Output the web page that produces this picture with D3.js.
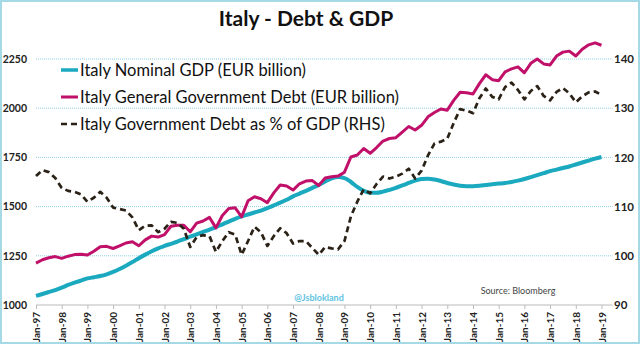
<!DOCTYPE html>
<html><head><meta charset="utf-8">
<script src="https://cdn.jsdelivr.net/npm/d3@7"></script>
<style>body{margin:0;background:#fff}svg{display:block}</style>
</head><body><svg id="c" width="640" height="345"></svg>
<script>
const startYear = 1997;
const yearLabels = ["Jan-97","Jan-98","Jan-99","Jan-00","Jan-01","Jan-02","Jan-03","Jan-04","Jan-05","Jan-06","Jan-07","Jan-08","Jan-09","Jan-10","Jan-11","Jan-12","Jan-13","Jan-14","Jan-15","Jan-16","Jan-17","Jan-18","Jan-19"];
const leftTicks = [1000,1250,1500,1750,2000,2250];
const rightTicks = [90,100,110,120,130,140];
// quarterly, Q1-1997 .. Q1-2019
const gdp = [1046,1056,1066,1076,1088,1102,1114,1124,1135,1141,1147,1156,1168,1183,1200,1218,1238,1256,1273,1288,1300,1311,1322,1335,1347,1359,1371,1383,1396,1410,1424,1438,1450,1460,1470,1480,1492,1506,1520,1535,1552,1566,1580,1595,1610,1628,1643,1650,1645,1625,1600,1580,1570,1570,1576,1585,1595,1608,1620,1632,1640,1642,1638,1630,1620,1612,1606,1604,1604,1606,1610,1614,1617,1620,1625,1632,1640,1650,1660,1670,1680,1688,1696,1704,1714,1724,1734,1744,1752];
const debt = [1213,1230,1240,1246,1237,1248,1256,1258,1254,1273,1296,1298,1287,1300,1315,1321,1301,1331,1350,1345,1358,1400,1405,1405,1372,1416,1427,1445,1392,1455,1490,1494,1448,1530,1550,1540,1520,1570,1610,1605,1584,1616,1630,1632,1607,1645,1652,1655,1675,1752,1762,1795,1771,1800,1833,1846,1850,1878,1907,1889,1913,1956,1978,1996,1990,2040,2081,2078,2072,2125,2170,2145,2140,2185,2200,2210,2180,2228,2250,2225,2220,2265,2285,2290,2265,2300,2322,2332,2320];
const ratio = [116.2,117.4,117.0,115.8,113.8,113.2,113.0,112.5,111.0,111.8,113.0,111.8,109.8,109.5,109.2,107.8,105.2,106.1,106.2,104.8,105.5,106.9,106.7,105.5,101.8,103.8,104.2,104.0,100.8,103.0,104.8,104.3,100.2,103.0,105.9,104.8,102.0,104.0,105.6,104.6,102.5,103.0,103.0,101.6,100.2,101.8,101.5,101.3,103.0,108.0,111.0,113.5,112.7,114.6,116.1,115.7,116.1,116.7,117.7,115.7,117.3,120.4,122.8,123.2,123.8,127.0,129.8,129.5,129.0,132.0,134.0,132.3,131.8,134.3,135.2,133.7,131.8,133.5,134.5,132.5,131.6,133.3,134.1,133.0,131.2,132.4,133.2,133.4,132.7];
const seriesNames = ["Italy Nominal GDP (EUR billion)","Italy General Government Debt (EUR billion)","Italy Government Debt as % of GDP (RHS)"];
const colors = ["#1aa9bf","#c0106a","#2b2217"];

const svg = d3.select("#c");
const FONT = "Lato, 'Open Sans', sans-serif";
const x = d3.scaleLinear().domain([0, 22]).range([36, 601.5]);
const xEnd = 612.5;
const yL = d3.scaleLinear().domain([1000, 2250]).range([305, 59]);
const yR = d3.scaleLinear().domain([90, 140]).range([305, 59]);
const qx = i => x(i / 4);

// frame
svg.append("rect").attr("x",1).attr("y",1).attr("width",638).attr("height",342)
  .attr("fill","none").attr("stroke","#a6d9e6").attr("stroke-width",2);

// title
svg.append("text").attr("x",306).attr("y",26).attr("text-anchor","middle")
  .attr("font-family",FONT).attr("font-weight","bold").attr("font-size",21).attr("fill","#111")
  .text("Italy - Debt & GDP");

// gridlines
svg.append("g").selectAll("line").data(leftTicks.filter(d=>d>1000)).join("line")
  .attr("x1",36).attr("x2",xEnd).attr("y1",d=>yL(d)).attr("y2",d=>yL(d))
  .attr("stroke","#8fd0e0").attr("stroke-width",1).attr("stroke-dasharray","1,1");

// left axis labels
const gl = svg.append("g").attr("transform","translate(27,0)")
  .call(d3.axisLeft(yL).tickValues(leftTicks).tickSize(0).tickPadding(0).tickFormat(d3.format("d")));
gl.select(".domain").remove();
gl.selectAll("text").attr("font-family",FONT).attr("font-weight","bold").attr("font-size",10.5).attr("fill","#222");

// right axis labels
const gr = svg.append("g").attr("transform","translate(614,0)")
  .call(d3.axisRight(yR).tickValues(rightTicks).tickSize(0).tickPadding(0).tickFormat(d3.format("d")));
gr.select(".domain").remove();
gr.selectAll("text").attr("font-family",FONT).attr("font-weight","bold").attr("font-size",11.5).attr("fill","#222");

// x axis
const gx = svg.append("g").attr("transform","translate(0,305)")
  .call(d3.axisBottom(x).tickValues(d3.range(0,23)).tickSize(4).tickPadding(3).tickFormat(i=>yearLabels[i]));
gx.select(".domain").attr("d",`M36,0H${xEnd}`).attr("stroke","#bbb");
gx.selectAll(".tick line").attr("stroke","#bbb");
gx.selectAll("text").attr("font-family",FONT).attr("font-weight","bold").attr("font-size",10).attr("fill","#222")
  .attr("transform","rotate(-90)").attr("text-anchor","end").attr("x",0).attr("y",0)
  .attr("dx",-7).attr("dy",3.5);

// watermark & source
svg.append("text").attr("x",319).attr("y",301).attr("text-anchor","middle")
  .attr("font-family",FONT).attr("font-weight","bold").attr("font-size",9).attr("fill","#62c3df").text("@Jsblokland");
svg.append("text").attr("x",518).attr("y",294).attr("text-anchor","middle")
  .attr("font-family",FONT).attr("font-size",9).attr("fill","#444").text("Source: Bloomberg");

// lines
const lineL = d3.line().x((d,i)=>qx(i)).y(d=>yL(d)).curve(d3.curveLinear);
const lineR = d3.line().x((d,i)=>qx(i)).y(d=>yR(d)).curve(d3.curveLinear);
svg.append("path").datum(gdp).attr("d",d3.line().x((d,i)=>qx(i)).y(d=>yL(d)).curve(d3.curveMonotoneX))
  .attr("fill","none").attr("stroke",colors[0]).attr("stroke-width",4).attr("stroke-linejoin","round");
svg.append("path").datum(debt).attr("d",lineL)
  .attr("fill","none").attr("stroke",colors[1]).attr("stroke-width",3).attr("stroke-linejoin","round");
svg.append("path").datum(ratio).attr("d",lineR)
  .attr("fill","none").attr("stroke",colors[2]).attr("stroke-width",2.7).attr("stroke-dasharray","6,4").attr("stroke-linejoin","round");

// legend
const legY = [70, 97, 124];
seriesNames.forEach((n,k)=>{
  const g = svg.append("g");
  g.append("line").attr("x1",61).attr("x2",78).attr("y1",legY[k]).attr("y2",legY[k])
    .attr("stroke",colors[k]).attr("stroke-width",k===0?3.5:(k===1?3:2.5))
    .attr("stroke-dasharray",k===2?"6,4":null);
  g.append("text").attr("x",80).attr("y",legY[k]+6).attr("font-family",FONT).attr("font-size",16.5)
    .attr("fill","#111").text(n);
});
</script></body></html>
